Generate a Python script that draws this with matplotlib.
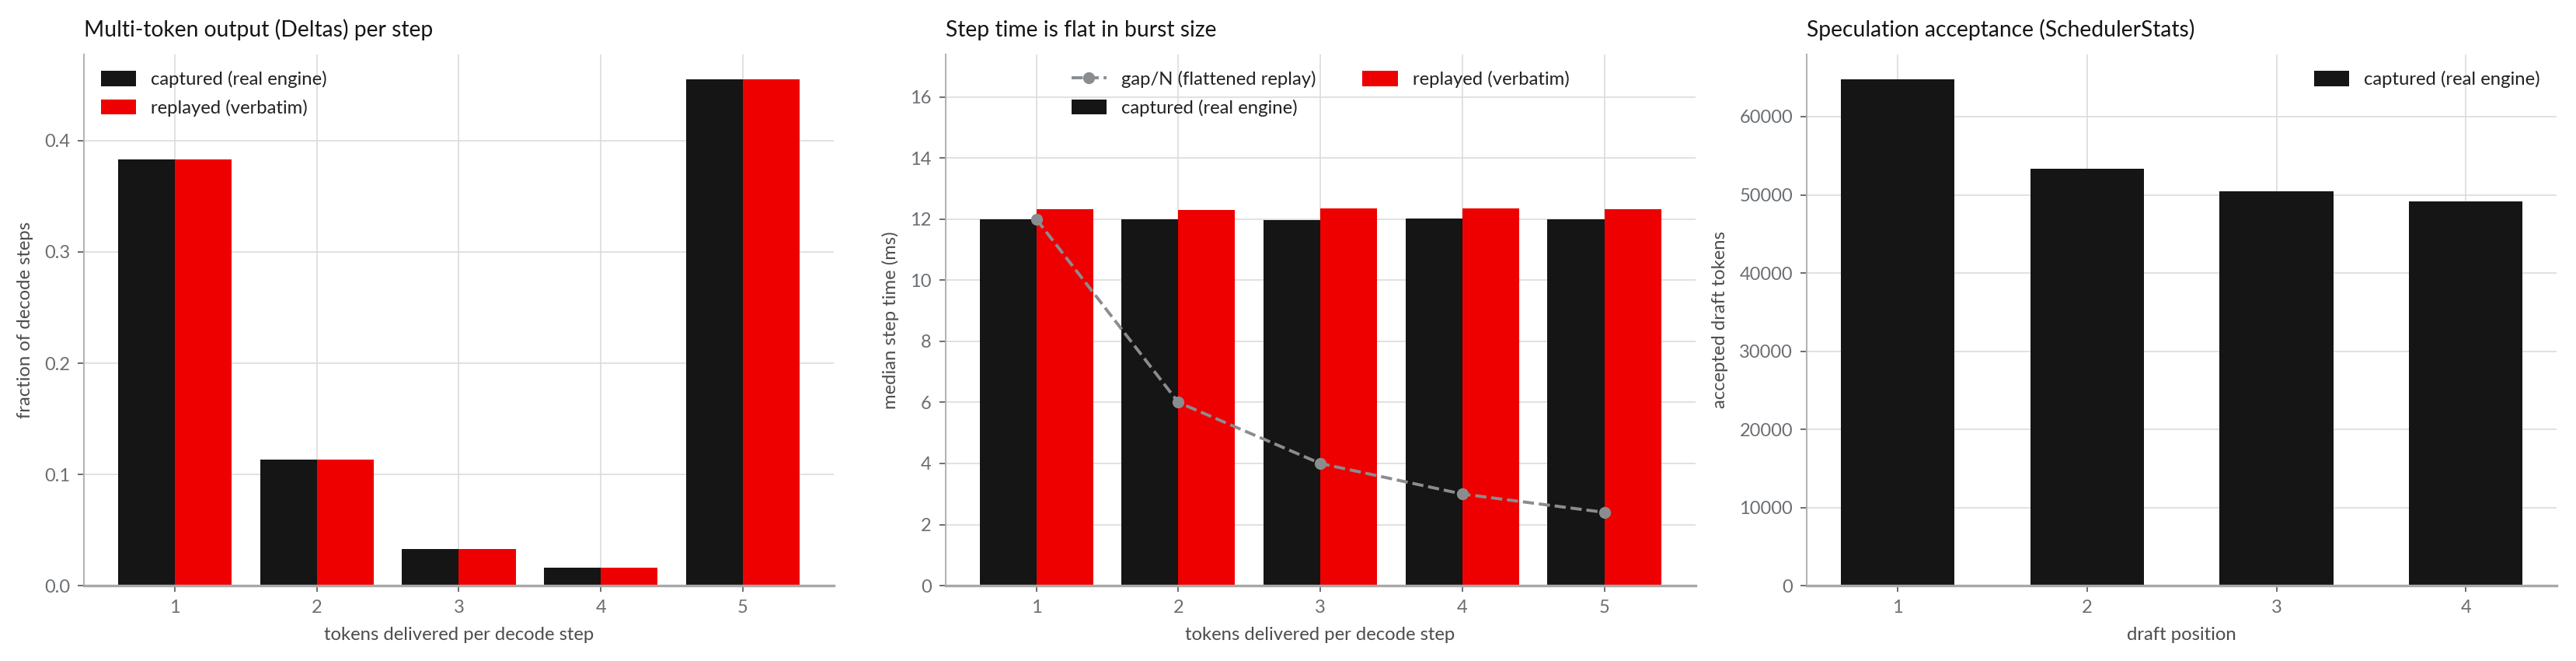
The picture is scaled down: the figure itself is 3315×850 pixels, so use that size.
import numpy as np
import matplotlib
matplotlib.use("Agg")
import matplotlib.pyplot as plt

# data
tokens = [1, 2, 3, 4, 5]
frac_captured = [0.383, 0.113, 0.033, 0.016, 0.455]
frac_replayed = [0.383, 0.113, 0.033, 0.016, 0.455]

step_captured = [12.0, 11.99, 11.98, 12.03, 11.99]
step_replayed = [12.33, 12.31, 12.36, 12.36, 12.33]
gap_over_n = [12.0, 6.0, 4.0, 3.0, 2.4]

draft_pos = [1, 2, 3, 4]
accepted = [64750, 53370, 50400, 49110]

BLACK = "#151515"
RED = "#ee0000"
GREY = "#8a8d90"

plt.rcParams["font.family"] = ["Lato", "DejaVu Sans"]
plt.rcParams["font.size"] = 8.5

fig, (ax1, ax2, ax3) = plt.subplots(1, 3, figsize=(16.575, 4.25), dpi=200)
fig.subplots_adjust(left=0.0326, right=0.9925, bottom=0.114, top=0.918, wspace=0.149)

LAB = dict(color="#4d4d4d", fontsize=8.6, labelpad=5)
TITLE = dict(loc="left", fontsize=10.2, color=BLACK, pad=8)
LEG = dict(frameon=False, fontsize=8.6, handlelength=1.9, handleheight=0.85, labelspacing=0.6,
           labelcolor="#222222")


def style(ax):
    ax.set_axisbelow(True)
    ax.grid(True, color="#dcdcdc", linewidth=0.6)
    for s in ["top", "right"]:
        ax.spines[s].set_visible(False)
    ax.spines["left"].set_color("#b0b0b0")
    ax.spines["left"].set_linewidth(0.7)
    ax.spines["bottom"].set_color("#a8a8a8")
    ax.spines["bottom"].set_linewidth(1.2)
    ax.tick_params(colors="#6a6e73", labelsize=8.5, length=3, width=0.7)


x = np.array(tokens)

# panel 1
ax1.bar(x - 0.2, frac_captured, width=0.4, color=BLACK, label="captured (real engine)")
ax1.bar(x + 0.2, frac_replayed, width=0.4, color=RED, label="replayed (verbatim)")
style(ax1)
ax1.set_xticks(tokens)
ax1.set_yticks([0.0, 0.1, 0.2, 0.3, 0.4])
ax1.set_xlabel("tokens delivered per decode step", **LAB)
ax1.set_ylabel("fraction of decode steps", **LAB)
ax1.set_title("Multi-token output (Deltas) per step", **TITLE)
ax1.legend(loc="upper left", **LEG)

# panel 2
b1 = ax2.bar(x - 0.2, step_captured, width=0.4, color=BLACK, label="captured (real engine)")
b2 = ax2.bar(x + 0.2, step_replayed, width=0.4, color=RED, label="replayed (verbatim)")
ln, = ax2.plot(x, gap_over_n, linestyle="--", marker="o", color=GREY, linewidth=1.4,
               markersize=4.5, label="gap/N (flattened replay)")
style(ax2)
ax2.set_xticks(tokens)
ax2.set_ylim(0, 17.4)
ax2.set_yticks(range(0, 17, 2))
ax2.set_xlabel("tokens delivered per decode step", **LAB)
ax2.set_ylabel("median step time (ms)", **LAB)
ax2.set_title("Step time is flat in burst size", **TITLE)
ax2.legend(handles=[ln, b1, b2], loc="upper center", ncol=2, columnspacing=2.5, **LEG)

# panel 3
ax3.bar(draft_pos, accepted, width=0.6, color=BLACK, label="captured (real engine)")
style(ax3)
ax3.set_xticks(draft_pos)
ax3.set_xlabel("draft position", **LAB)
ax3.set_ylabel("accepted draft tokens", **LAB)
ax3.set_title("Speculation acceptance (SchedulerStats)", **TITLE)
ax3.legend(loc="upper right", **LEG)

fig.savefig("out.png", dpi=200)
